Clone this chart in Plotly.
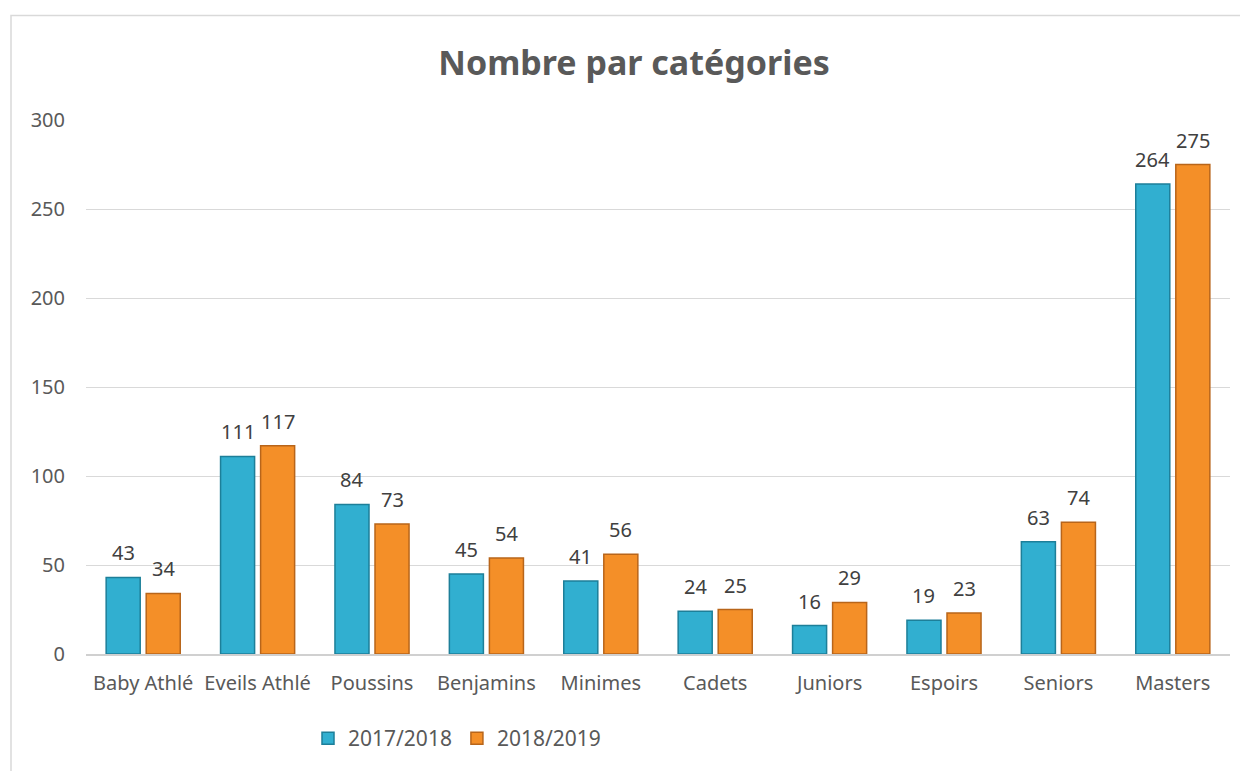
import plotly.graph_objects as go

categories = ["Baby Athlé", "Eveils Athlé", "Poussins", "Benjamins", "Minimes",
              "Cadets", "Juniors", "Espoirs", "Seniors", "Masters"]
s2017 = [43, 111, 84, 45, 41, 24, 16, 19, 63, 264]
s2018 = [34, 117, 73, 54, 56, 25, 29, 23, 74, 275]
series_names = ["2017/2018", "2018/2019"]
y_ticks = [0, 50, 100, 150, 200, 250, 300]

OFF = 8  # page body margin
SW, SH = 1248, 771
W, H = SW - OFF, SH - OFF
# plot area in screen pixels
PX0, PX1, PY0, PY1 = 86, 1230, 120, 657
L, R, T, B = PX0 - OFF, SW - PX1, PY0 - OFF, SH - PY1
pw, ph = PX1 - PX0, PY1 - PY0

def px_x(px):
    return (px - PX0) / pw

def px_y(py):
    return (PY1 - py) / ph

FONT = "Noto Sans"
BARGAP = 0.3
BARGROUPGAP = 0.15

series = [
    (series_names[0], s2017, "#31afd0", "#1d7f99"),
    (series_names[1], s2018, "#f48f28", "#b8651a"),
]

fig = go.Figure()
for name, vals, col, edge in series:
    fig.add_trace(go.Bar(
        x=categories, y=vals, name=name,
        marker=dict(color=col, line=dict(color=edge, width=1.5)),
    ))

# value labels above each bar (offset to each bar's slot within the group)
cat_w = pw / len(categories)
slot = cat_w * (1 - BARGAP) / len(series)
annotations = []
for i, (name, vals, col, edge) in enumerate(series):
    xshift = (i - (len(series) - 1) / 2) * slot
    for c, v in zip(categories, vals):
        annotations.append(dict(
            x=c, y=v, xref="x", yref="y", text=str(v), showarrow=False,
            xanchor="center", yanchor="bottom", xshift=xshift, yshift=9,
            font=dict(family=FONT, size=20, color="#404040"),
        ))

fig.update_layout(
    width=W, height=H,
    margin=dict(l=L, r=R, t=T, b=B),
    paper_bgcolor="white", plot_bgcolor="white",
    barmode="group", bargap=BARGAP, bargroupgap=BARGROUPGAP,
    title=dict(text="<b>Nombre par catégories</b>", x=px_x(634), xref="paper",
               xanchor="center", y=(SH - 63) / H, yanchor="middle",
               font=dict(family=FONT, size=34, color="#595959")),
    font=dict(family=FONT, size=20, color="#595959"),
    showlegend=True,
    legend=dict(orientation="h", x=px_x(457), xanchor="center",
                y=px_y(742), yanchor="middle",
                font=dict(family=FONT, size=21, color="#595959"),
                itemwidth=30, traceorder="normal"),
    xaxis=dict(showgrid=False, showline=True, linecolor="#d0d0d0", linewidth=1.5,
               ticks="", tickfont=dict(size=20, color="#595959"),
               ticklabelstandoff=10),
    yaxis=dict(range=[0, 300], tickvals=y_ticks, showgrid=True,
               gridcolor="#d9d9d9", gridwidth=1.2, zeroline=False,
               showline=False, ticks="", ticklabelstandoff=20,
               tickfont=dict(size=20, color="#595959")),
    annotations=annotations,
    shapes=[dict(type="rect", xref="paper", yref="paper",
                 x0=px_x(11), x1=px_x(1260), y0=px_y(790), y1=px_y(15),
                 line=dict(color="#d9d9d9", width=1.5), fillcolor="rgba(0,0,0,0)",
                 layer="below")],
)

fig.write_html("out.html")
